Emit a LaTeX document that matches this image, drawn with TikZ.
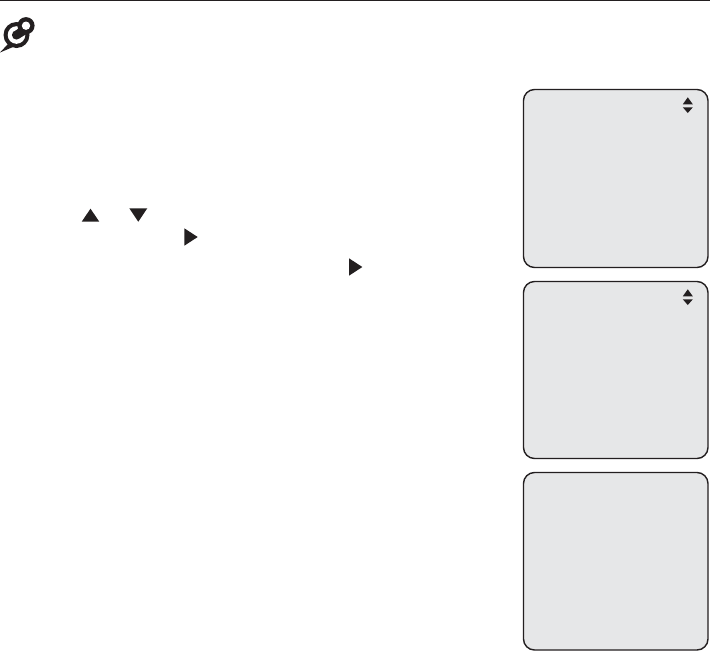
\documentclass[tikz,border=0pt]{standalone}
\definecolor{ink}{HTML}{231F20}
\definecolor{screen}{HTML}{E6E7E8}
\tikzset{
  screenbox/.style={draw=ink,fill=screen,line width=1.4pt,rounded corners=11pt},
  solidtri/.style={fill=ink,draw=none},
}
\begin{document}
\begin{tikzpicture}[x=1pt,y=-1pt]
\useasboundingbox (0,0) rectangle (710,651);
\fill[white] (0,0) rectangle (710,651);
% top rule
\fill[ink] (0,0) rectangle (710,1.3);
% pin icon
\fill[ink] (16.5,35) circle (13);
\fill[ink] (8,44) -- (0,52.5) -- (13,47) -- cycle;
\fill[white] (16.5,35) circle (8.8);
\fill[ink] (16.5,35) circle (4.6);
\fill[ink] (15,31) -- (22,26) -- (28,33) -- (20,38) -- cycle;
\fill[ink] (26,25.7) circle (8.6);
\fill[white] (26,25.7) circle (4.2);
% screens
\draw[screenbox] (523.5,89.5) rectangle (708,267.5);
\draw[screenbox] (523.5,281.5) rectangle (708,458.5);
\draw[screenbox] (523.5,472.5) rectangle (708,650);
% scroll marks
\foreach \dy in {0,192}{
  \fill[solidtri] (687.8,97.3+\dy) -- (692.8,104.3+\dy) -- (682.8,104.3+\dy) -- cycle;
  \fill[solidtri] (682.8,107.3+\dy) -- (692.8,107.3+\dy) -- (687.8,113+\dy) -- cycle;
}
% text triangles
\fill[solidtri] (90.5,208.7) -- (99.3,221.7) -- (81.7,221.7) -- cycle;
\fill[solidtri] (129.3,208.3) -- (147.3,208.3) -- (138.3,221.7) -- cycle;
\fill[solidtri] (184.3,228.3) -- (197.7,237) -- (184.3,245.7) -- cycle;
\fill[solidtri] (349,258.3) -- (362.3,267) -- (349,275.7) -- cycle;
\end{tikzpicture}
\end{document}
